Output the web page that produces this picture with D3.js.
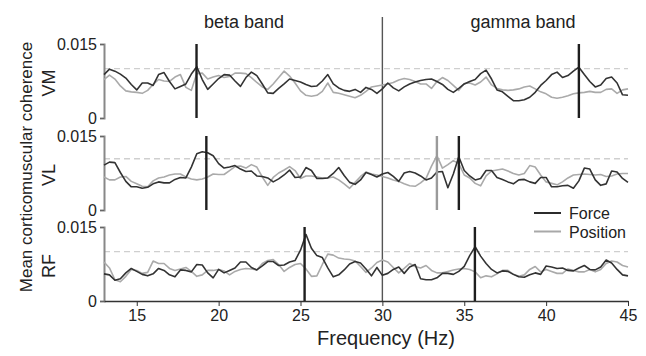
<!DOCTYPE html>
<html>
<head>
<meta charset="utf-8">
<script src="https://cdn.jsdelivr.net/npm/d3@7"></script>
<style>
  body { margin: 0; background: #fff; }
  svg { display: block; font-family: "Liberation Sans", Arial, sans-serif; }
  .series { fill: none; stroke-width: 1.6; stroke-linejoin: round; }
  .force { stroke: #333; }
  .position { stroke: #aaa; }
</style>
</head>
<body>
<svg id="chart" width="646" height="356"></svg>
<script>
// ------------------------------------------
//  Data (coherence in units of 1e-3, sampled every 1/3 Hz from 13 to 45 Hz)
// ------------------------------------------
const freqs = d3.range(97).map(i => 13 + i / 3)

const panels = ['VM', 'VL', 'RF']
const thresholds = [10, 10.4, 10]
const xTicks = [15, 20, 25, 30, 35, 40, 45]
const bandLabels = ['beta band', 'gamma band']
const seriesNames = ['Force', 'Position']

const vmForce = [8.8, 9.9, 9.5, 8.9, 8.1, 6.8, 5.7, 7.1, 7.1, 6.6, 8.8, 9.2, 7.4, 5.9, 6.4, 6.9, 8.9, 10.4, 7.8, 5.8,
  6.9, 8.0, 8.8, 8.7, 7.5, 6.4, 8.2, 9.3, 8.6, 6.9, 5.1, 5.0, 6.0, 6.9, 7.9, 7.6, 7.3, 6.8, 6.4, 6.5,
  7.5, 8.8, 6.9, 6.1, 5.6, 5.4, 5.8, 5.2, 6.2,
  5.8, 5.0, 5.9, 7.1, 6.1, 5.5, 6.3, 6.9, 7.3, 7.6, 7.8, 7.9, 7.4, 6.8, 5.8, 5.2, 6.0, 6.9, 7.4, 7.8,
  9.0, 9.7, 7.9, 5.7, 5.3, 4.4, 3.5, 3.5, 3.7, 4.2, 5.2, 6.6, 7.6, 8.8, 9.3, 8.2, 8.6, 9.5, 10.3, 8.8,
  7.4, 6.3, 6.7, 8.0, 8.3, 7.1, 4.7, 4.6]
const vmPosition = [7.8, 8.7, 7.9, 6.5, 5.5, 5.3, 5.2, 5.0, 5.6, 6.8, 7.8, 7.5, 7.4, 8.3, 8.8, 6.2, 5.6, 9.0, 9.1, 7.9,
  8.3, 8.6, 8.2, 8.4, 9.1, 9.1, 9.0, 8.2, 7.2, 6.3, 5.8, 6.9, 8.2, 9.5, 8.5, 7.1, 5.5, 4.6, 4.4, 4.6,
  5.4, 7.1, 5.2, 5.0, 4.7, 4.4, 4.1, 4.6, 5.4,
  6.3, 6.5, 6.7, 6.9, 7.2, 7.7, 8.0, 7.8, 7.4, 6.9, 6.9, 6.0, 7.4, 8.2, 7.6, 6.6, 5.6, 7.0, 7.1, 6.7,
  7.3, 8.3, 6.7, 6.0, 5.7, 5.6, 5.7, 5.9, 6.3, 6.5, 5.9, 5.3, 4.9, 4.2, 4.0, 4.2, 4.5, 4.9, 5.1, 5.2,
  5.4, 5.2, 5.2, 5.8, 5.9, 5.0, 5.7, 5.9]
const vlForce = [9.1, 9.7, 9.6, 7.6, 5.8, 4.7, 4.7, 4.4, 4.6, 5.3, 5.7, 5.5, 5.5, 6.2, 6.6, 6.5, 8.7, 11.4, 11.8, 11.6,
  11.0, 9.4, 8.5, 8.7, 9.0, 8.3, 7.8, 7.9, 6.9, 6.8, 6.5, 5.7, 6.3, 7.1, 8.1, 6.6, 6.7, 8.6, 8.0, 6.4,
  6.4, 6.5, 7.4, 8.6, 7.0, 5.6, 5.2, 6.1, 7.6,
  7.2, 6.7, 7.3, 7.6, 6.8, 5.8, 7.5, 7.8, 7.5, 6.9, 6.1, 6.5, 7.7, 7.8, 4.5, 7.3, 10.8, 8.0, 6.9, 6.1,
  6.4, 8.0, 8.0, 6.6, 6.2, 5.7, 5.3, 6.1, 6.2, 5.7, 5.4, 6.6, 6.6, 4.7, 4.7, 4.9, 5.0, 4.4, 5.9, 8.5,
  8.3, 6.1, 5.0, 5.3, 7.9, 7.7, 6.4, 5.6]
const vlPosition = [6.7, 6.1, 6.1, 6.7, 6.8, 5.8, 5.3, 4.8, 4.7, 5.9, 6.5, 6.7, 7.1, 7.3, 7.3, 6.7, 6.3, 6.1, 6.3, 6.7,
  7.3, 7.2, 7.2, 8.0, 8.8, 8.9, 8.5, 9.2, 8.7, 6.7, 5.0, 6.6, 7.5, 8.1, 8.8, 8.0, 6.4, 6.9, 6.9, 6.7,
  6.5, 6.5, 6.7, 6.1, 5.3, 4.4, 5.6, 6.8, 7.7,
  7.3, 7.1, 6.8, 6.5, 6.1, 5.8, 5.3, 4.9, 4.8, 5.5, 6.4, 8.9, 11.0, 8.5, 9.2, 10.0, 9.4, 7.1, 6.5, 5.4,
  4.9, 6.9, 7.9, 8.1, 8.3, 7.9, 7.4, 7.1, 7.4, 9.0, 8.7, 7.1, 5.7, 5.4, 5.1, 5.7, 6.5, 7.1, 7.2, 7.3,
  7.2, 7.1, 7.2, 6.8, 6.9, 7.3, 7.4, 7.4]
const rfForce = [5.5, 5.3, 4.2, 4.5, 5.7, 6.6, 6.0, 5.4, 5.1, 5.5, 6.6, 6.2, 5.3, 4.9, 6.3, 6.2, 5.9, 7.4, 7.3, 5.7,
  4.7, 6.4, 5.7, 6.2, 6.7, 7.9, 7.9, 6.8, 6.3, 7.1, 8.0, 8.0, 7.2, 7.3, 7.9, 8.2, 10.3, 13.5, 10.7, 9.2,
  8.8, 6.7, 4.9, 5.3, 6.3, 7.5, 8.0, 7.7, 6.5,
  5.1, 6.8, 5.2, 5.6, 6.4, 6.9, 5.6, 6.9, 7.4, 4.5, 4.3, 4.3, 4.7, 5.6, 5.6, 5.4, 6.0, 7.0, 9.2, 11.0,
  9.1, 7.6, 6.4, 5.7, 6.1, 6.0, 5.4, 4.9, 4.8, 5.3, 5.7, 5.4, 7.1, 6.9, 6.6, 6.7, 6.2, 6.1, 6.7, 7.2,
  6.4, 6.3, 6.9, 8.3, 7.7, 6.4, 5.3, 5.1]
const rfPosition = [7.9, 6.7, 4.3, 3.9, 5.0, 6.4, 6.2, 5.6, 5.8, 8.1, 7.6, 7.6, 6.6, 6.2, 6.5, 6.8, 6.0, 5.0, 5.3, 6.2,
  6.2, 6.4, 6.1, 5.3, 6.0, 6.4, 6.6, 6.5, 6.3, 7.6, 8.2, 8.4, 7.4, 6.0, 6.8, 7.4, 7.6, 6.5, 5.0, 5.1,
  7.4, 9.5, 9.3, 8.7, 8.5, 8.4, 8.1, 7.0, 5.8,
  6.7, 7.8, 8.3, 7.9, 6.8, 5.7, 6.6, 7.6, 7.0, 6.7, 7.2, 6.2, 5.7, 5.7, 6.0, 6.3, 6.5, 6.6, 6.4, 5.9,
  4.7, 5.1, 4.9, 5.5, 6.2, 6.2, 5.4, 5.0, 5.3, 6.4, 7.0, 5.9, 6.4, 6.0, 5.6, 5.6, 6.5, 6.2, 5.9, 5.9,
  6.4, 5.9, 6.4, 7.6, 8.1, 7.9, 7.2, 6.9]

const forceSeries = [vmForce, vlForce, rfForce]
const positionSeries = [vmPosition, vlPosition, rfPosition]

// peak markers: panel index, frequency, which series
const markerPanel = [0, 0, 1, 1, 1, 2, 2]
const markerFreq = [18.65, 42.0, 19.25, 33.33, 34.67, 25.25, 35.65]
const markerSeries = ['Force', 'Force', 'Force', 'Position', 'Force', 'Force', 'Force']

// ------------------------------------------
//  Layout
// ------------------------------------------
const svg = d3.select('#chart')
const left = 104, right = 628
const panelTop = [44, 136, 227]
const panelH = 74
const colors = { Force: '#2b2b2b', Position: '#a8a8a8' }

const x = d3.scaleLinear().domain([13, 45]).range([left, right])

// 30 Hz divider
svg.append('line')
  .attr('x1', x(30)).attr('x2', x(30))
  .attr('y1', 17).attr('y2', panelTop[2] + panelH)
  .attr('stroke', '#555').attr('stroke-width', 1.4)

panels.forEach((name, i) => {
  const y = d3.scaleLinear().domain([0, 15]).range([panelTop[i] + panelH, panelTop[i]])
  const g = svg.append('g')

  // threshold
  g.append('line')
    .attr('x1', left).attr('x2', right)
    .attr('y1', y(thresholds[i])).attr('y2', y(thresholds[i]))
    .attr('stroke', '#cfcfcf').attr('stroke-width', 1.4)
    .attr('stroke-dasharray', '6,4')

  // y axis
  const yAxis = g.append('g')
    .attr('transform', `translate(${left},0)`)
    .call(d3.axisLeft(y).tickValues([0, 15]).tickSize(4).tickPadding(3)
      .tickFormat(d => d === 0 ? '0' : (d / 1000).toFixed(3)))
  yAxis.select('.domain').attr('stroke', '#888').attr('stroke-width', 2)
  yAxis.selectAll('.tick line').attr('stroke', '#666')
  yAxis.selectAll('.tick text').attr('fill', '#222').style('font-size', '16px')
    .style('font-family', '"Liberation Sans", Arial, sans-serif')

  g.append('text')
    .attr('transform', `translate(55,${panelTop[i] + panelH / 2 + 2}) rotate(-90)`)
    .attr('text-anchor', 'middle')
    .attr('fill', '#222')
    .style('font-size', '18px')
    .text(name)

  const line = d3.line().x((d, j) => x(freqs[j])).y(d => y(d))

  g.append('path').datum(positionSeries[i]).attr('class', 'series position').attr('d', line)
  g.append('path').datum(forceSeries[i]).attr('class', 'series force').attr('d', line)

  // markers
  markerFreq.forEach((f, k) => {
    if (markerPanel[k] !== i) return
    g.append('line')
      .attr('x1', x(f)).attr('x2', x(f))
      .attr('y1', y(15)).attr('y2', y(0))
      .attr('stroke', markerSeries[k] === 'Force' ? '#1e1e1e' : '#9a9a9a')
      .attr('stroke-width', 2.4)
  })
})

// x axis under the last panel
const xAxis = svg.append('g')
  .attr('transform', `translate(0,${panelTop[2] + panelH})`)
  .call(d3.axisBottom(x).tickValues(xTicks).tickSize(5).tickPadding(4).tickSizeOuter(0))
xAxis.select('.domain').attr('stroke', '#333').attr('stroke-width', 1.5)
xAxis.selectAll('.tick line').attr('stroke', '#333')
xAxis.selectAll('.tick text').attr('fill', '#222').style('font-size', '16px')
  .style('font-family', '"Liberation Sans", Arial, sans-serif')

svg.append('text')
  .attr('x', 386).attr('y', 345)
  .attr('text-anchor', 'middle').attr('fill', '#222')
  .style('font-size', '20px')
  .text('Frequency (Hz)')

svg.append('text')
  .attr('transform', 'translate(32,167) rotate(-90)')
  .attr('text-anchor', 'middle').attr('fill', '#222')
  .style('font-size', '17px')
  .text('Mean corticomuscular coherence')

// band titles
svg.selectAll('.band').data(bandLabels).enter().append('text')
  .attr('x', (d, i) => i === 0 ? 244 : 523).attr('y', 28)
  .attr('text-anchor', 'middle').attr('fill', '#222')
  .style('font-size', '18px')
  .text(d => d)

// legend
const legend = svg.append('g').attr('transform', 'translate(534,213)')
seriesNames.forEach((s, i) => {
  legend.append('line')
    .attr('x1', 0).attr('x2', 27).attr('y1', i * 18.5).attr('y2', i * 18.5)
    .attr('stroke', colors[s]).attr('stroke-width', 2)
  legend.append('text')
    .attr('x', 35).attr('y', i * 18.5 + 6)
    .attr('fill', '#222').style('font-size', '16px')
    .text(s)
})
</script>
</body>
</html>
